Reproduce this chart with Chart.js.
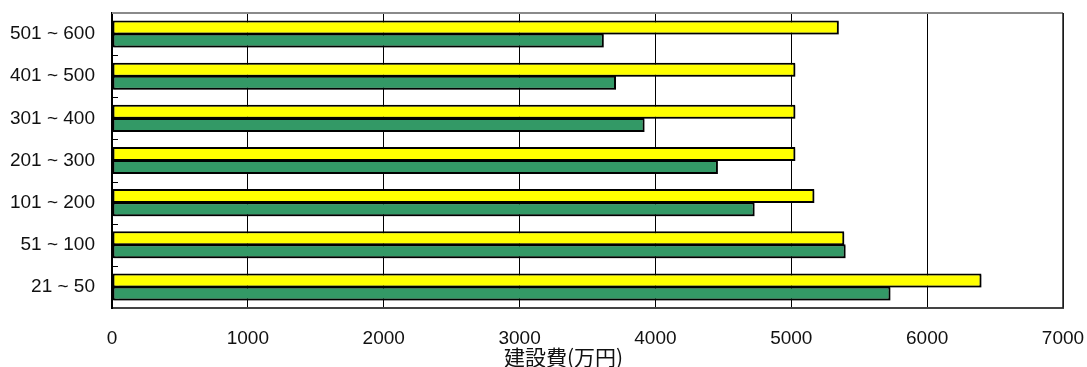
<!DOCTYPE html>
<html>
<head>
<meta charset="utf-8">
<script src="https://cdn.jsdelivr.net/npm/chart.js@4/dist/chart.umd.min.js"></script>
<style>
  html, body { margin: 0; padding: 0; background: #fff; }
  #wrap { width: 1087px; height: 367px; }
</style>
</head>
<body>
<div id="wrap"><canvas id="c" width="1087" height="367"></canvas></div>
<script>
// 延床面積区分（上から順）
const categories = ['501 ~ 600', '401 ~ 500', '301 ~ 400', '201 ~ 300', '101 ~ 200', '51 ~ 100', '21 ~ 50'];
// 建設費（万円）
const seriesYellow = [5350, 5030, 5030, 5030, 5170, 5390, 6400];
const seriesGreen  = [3620, 3710, 3920, 4460, 4730, 5400, 5730];
// 横軸
const xMin = 0;
const xMax = 7000;
const xStep = 1000;
const xTitle = '建設費(万円)';

const LATIN = '"Liberation Sans", Arial, sans-serif';
const CJK = '"Noto Sans CJK JP", "Liberation Sans", sans-serif';

// 棒の影
const barShadow = {
  id: 'barShadow',
  beforeDatasetsDraw(chart) {
    const ctx = chart.ctx;
    ctx.save();
    ctx.shadowColor = 'rgba(0,0,0,0.35)';
    ctx.shadowBlur = 1;
    ctx.shadowOffsetX = 1.5;
    ctx.shadowOffsetY = 1.5;
  },
  afterDatasetsDraw(chart) {
    chart.ctx.restore();
  }
};

// 枠線・区分境界の目盛・軸タイトル
const frame = {
  id: 'frame',
  afterDraw(chart) {
    const ctx = chart.ctx;
    const a = chart.chartArea;
    const y = chart.scales.y;
    ctx.save();
    // 上辺
    ctx.strokeStyle = '#8a8a8a';
    ctx.lineWidth = 2;
    ctx.beginPath();
    ctx.moveTo(a.left, a.top);
    ctx.lineTo(a.right, a.top);
    ctx.stroke();
    // 右辺
    ctx.strokeStyle = '#222';
    ctx.lineWidth = 1.5;
    ctx.beginPath();
    ctx.moveTo(a.right, a.top);
    ctx.lineTo(a.right, a.bottom);
    ctx.stroke();
    // 区分境界の内向き目盛
    ctx.strokeStyle = '#000';
    ctx.lineWidth = 1;
    const n = categories.length;
    for (let i = 0; i < n - 1; i++) {
      const p = Math.round((y.getPixelForValue(i) + y.getPixelForValue(i + 1)) / 2) + 0.5;
      ctx.beginPath();
      ctx.moveTo(a.left, p);
      ctx.lineTo(a.left + 6, p);
      ctx.stroke();
    }
    // 横軸タイトル
    ctx.fillStyle = '#111';
    ctx.font = '21px ' + CJK;
    ctx.textAlign = 'center';
    ctx.textBaseline = 'middle';
    ctx.fillText(xTitle, (a.left + a.right) / 2 - 24, 357);
    ctx.restore();
  }
};

new Chart(document.getElementById('c'), {
  type: 'bar',
  data: {
    labels: categories,
    datasets: [
      {
        label: '系列1',
        data: seriesYellow,
        backgroundColor: '#ffff00',
        borderColor: '#000',
        borderWidth: 2,
        borderSkipped: false,
        categoryPercentage: 0.62,
        barPercentage: 1.07
      },
      {
        label: '系列2',
        data: seriesGreen,
        backgroundColor: '#339966',
        borderColor: '#000',
        borderWidth: 2,
        borderSkipped: false,
        categoryPercentage: 0.62,
        barPercentage: 1.07
      }
    ]
  },
  options: {
    indexAxis: 'y',
    responsive: false,
    animation: false,
    devicePixelRatio: 1,
    layout: { autoPadding: false, padding: { top: 13, right: 24, bottom: 0, left: 0 } },
    plugins: {
      legend: { display: false },
      tooltip: { enabled: false },
      title: { display: false }
    },
    scales: {
      x: {
        type: 'linear',
        min: xMin,
        max: xMax,
        ticks: {
          stepSize: xStep,
          padding: 19,
          color: '#111',
          font: { family: LATIN, size: 19 },
          callback: (v) => String(v)
        },
        grid: {
          color: '#000',
          lineWidth: 1,
          drawTicks: false
        },
        border: { display: true, color: '#444', width: 2 },
        afterFit(scale) {
          scale.height = 59;
          scale.paddingLeft = 0;
          scale.paddingRight = 0;
        }
      },
      y: {
        type: 'category',
        ticks: {
          padding: 17,
          color: '#111',
          font: { family: LATIN, size: 19 }
        },
        grid: { display: false, drawTicks: false },
        border: { display: true, color: '#000', width: 2 },
        afterFit(scale) {
          scale.width = 112;
          scale.paddingTop = 0;
          scale.paddingBottom = 0;
        }
      }
    }
  },
  plugins: [barShadow, frame]
});
</script>
</body>
</html>
